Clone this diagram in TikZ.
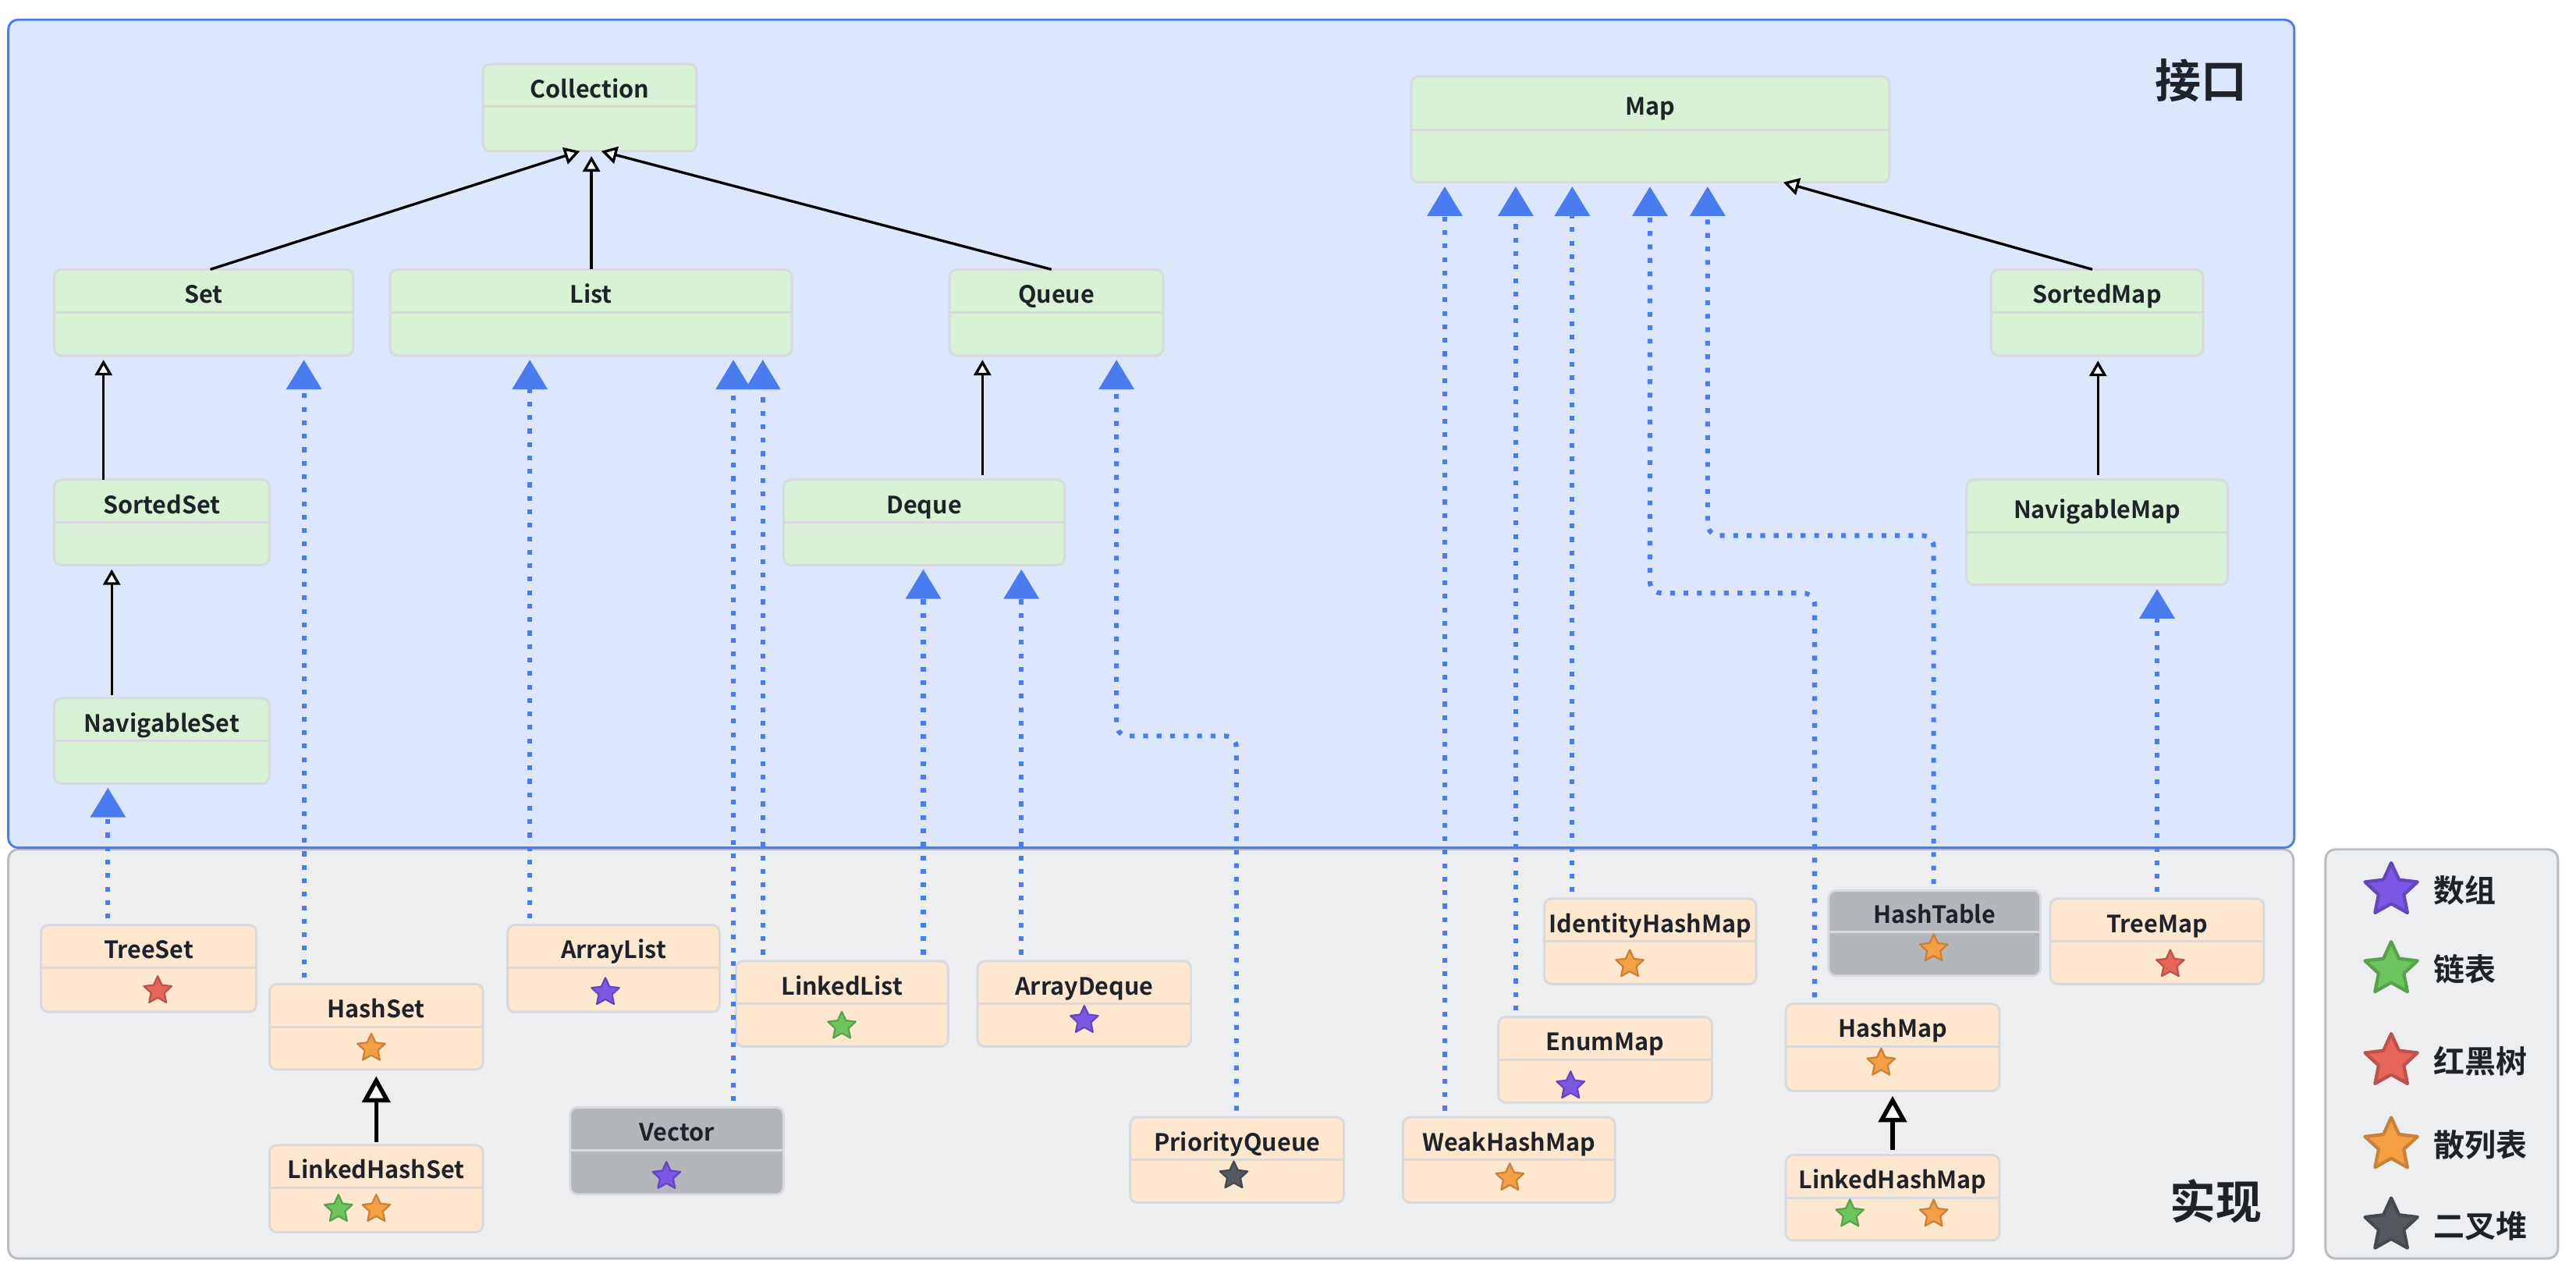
\documentclass[tikz,border=0pt]{standalone}
\usepackage{fontspec}
\setmainfont{Noto Sans CJK SC}[BoldFont={Noto Sans CJK SC Bold}]
\usetikzlibrary{arrows.meta}
\definecolor{ifill}{HTML}{DCE6FD}
\definecolor{iborder}{HTML}{4A7EF0}
\definecolor{pfill}{HTML}{EDEEF0}
\definecolor{pborder}{HTML}{B9BCC1}
\definecolor{gfill}{HTML}{D9F1D4}
\definecolor{ofill}{HTML}{FDE8CF}
\definecolor{grfill}{HTML}{B3B6BA}
\definecolor{bline}{HTML}{DADADE}
\definecolor{realc}{HTML}{4A7CF0}
\definecolor{txt}{HTML}{1F2329}
\definecolor{spurple}{HTML}{7B57E6}
\definecolor{sgreen}{HTML}{6CC55C}
\definecolor{sred}{HTML}{E6645A}
\definecolor{sorange}{HTML}{F59F45}
\definecolor{sdark}{HTML}{55595F}
\tikzset{
  ubox/.style={draw=bline, line width=1.4, rounded corners=4.5, inner sep=0pt, outer sep=0pt},
  udiv/.style={draw=bline, line width=1.4},
  utitle/.style={font=\fontsize{14.5}{17}\selectfont\bfseries, text=txt, inner sep=0pt},
  real/.style={realc, line width=2.9, dash pattern=on 2.9pt off 5.3pt, rounded corners=7,
    -{Triangle[width=21pt,length=18pt]}, shorten <=4pt, shorten >=2.5pt},
  inh/.style={black, line width=1.6, -{Triangle[open, width=10.5pt, length=9.5pt, fill=white]}},
  inhbig/.style={black, line width=2.6, -{Triangle[open, width=17pt, length=16pt, fill=white]}},
  biglabel/.style={font=\fontsize{28}{30}\selectfont\bfseries, text=txt, inner sep=0pt},
  leglabel/.style={font=\fontsize{19}{21}\selectfont\bfseries, text=txt, inner sep=0pt, anchor=west}
}
% #1 name, #2 x0, #3 y0, #4 x1, #5 y1, #6 divider y, #7 fill, #8 title
\newcommand\umlbox[8]{%
  \node[ubox, fill=#7, minimum width={#4pt-#2pt}, minimum height={#5pt-#3pt}] (#1) at ({(#2+#4)/2},{(#3+#5)/2}) {};
  \draw[udiv] (#2,#6) -- (#4,#6);
  \node[utitle, anchor=base] (#1-t) at ({(#2+#4)/2},{(#3+#6)/2+7.5}) {#8};
}
% #1 x, #2 y, #3 R, #4 colour
\newcommand\starat[4]{%
  \draw[fill=#4, draw=#4!82!black, line width={#3*0.12}, line join=round, shift={(#1,{#2+1})}]
    (270:#3) -- (306:{#3*0.48}) -- (342:#3) -- (18:{#3*0.48}) -- (54:#3) -- (90:{#3*0.48})
    -- (126:#3) -- (162:{#3*0.48}) -- (198:#3) -- (234:{#3*0.48}) -- cycle;
}
\begin{document}
\begin{tikzpicture}[x=1pt,y=-1pt]
\useasboundingbox (0,0) rectangle (1568,775);
\fill[white] (0,0) rectangle (1568,775);
% panels
\draw[draw=pborder, fill=pfill, line width=1.4, rounded corners=6] (5,517) rectangle (1396,766);
\draw[draw=iborder, fill=ifill, line width=1.4, rounded corners=6] (5,12) rectangle (1396.5,516);
\draw[draw=pborder, fill=pfill, line width=1.4, rounded corners=6] (1415.5,517) rectangle (1557,766);
\node[biglabel] (lblI) at (1340,49) {接口};
\node[biglabel] (lblR) at (1349,731) {实现};

% interface boxes
\umlbox{Collection}{294}{39}{424}{92}{65}{gfill}{Collection}
\umlbox{Set}{33}{164}{215}{216.5}{190}{gfill}{Set}
\umlbox{List}{237.5}{164}{482}{216.5}{190}{gfill}{List}
\umlbox{Queue}{578}{164}{708}{216.5}{190}{gfill}{Queue}
\umlbox{SortedSet}{33}{292}{164}{344}{318}{gfill}{SortedSet}
\umlbox{NavigableSet}{33}{425}{164}{477}{451}{gfill}{NavigableSet}
\umlbox{Deque}{477}{292}{648}{344}{318}{gfill}{Deque}
\umlbox{Map}{859}{46.5}{1150}{111}{79}{gfill}{Map}
\umlbox{SortedMap}{1212}{164}{1341}{216.5}{190}{gfill}{SortedMap}
\umlbox{NavigableMap}{1197}{292}{1356}{356}{324}{gfill}{NavigableMap}

% implementation boxes
\umlbox{TreeSet}{25}{563}{156}{616}{589}{ofill}{TreeSet}
\umlbox{HashSet}{164}{599}{294}{651}{625}{ofill}{HashSet}
\umlbox{LinkedHashSet}{164}{697}{294}{750}{723}{ofill}{LinkedHashSet}
\umlbox{ArrayList}{309}{563}{438}{616}{589}{ofill}{ArrayList}
\umlbox{LinkedList}{448}{585}{577}{637}{611}{ofill}{LinkedList}
\umlbox{Vector}{347}{674}{477}{727}{700}{grfill}{Vector}
\umlbox{ArrayDeque}{595}{585}{725}{637}{611}{ofill}{ArrayDeque}
\umlbox{PriorityQueue}{688}{680}{818}{732}{706}{ofill}{PriorityQueue}
\umlbox{WeakHashMap}{854}{680}{983}{732}{706}{ofill}{WeakHashMap}
\umlbox{EnumMap}{912}{619}{1042}{671}{645}{ofill}{EnumMap}
\umlbox{IdentityHashMap}{940}{547}{1069}{599}{573}{ofill}{IdentityHashMap}
\umlbox{HashTable}{1113}{542}{1242}{594}{567}{grfill}{HashTable}
\umlbox{HashMap}{1087}{611}{1217}{664}{637}{ofill}{HashMap}
\umlbox{LinkedHashMap}{1087}{703}{1217}{755}{729}{ofill}{LinkedHashMap}
\umlbox{TreeMap}{1248}{547}{1378}{599}{573}{ofill}{TreeMap}

% realization connectors
\draw[real] (65.7,0 |- TreeSet.north) -- (65.7,0 |- NavigableSet.south);
\draw[real] (185,0 |- HashSet.north) -- (185,0 |- Set.south);
\draw[real] (322.5,0 |- ArrayList.north) -- (322.5,0 |- List.south);
\draw[real] (446.4,0 |- Vector.north) -- (446.4,0 |- List.south);
\draw[real] (464.3,0 |- LinkedList.north) -- (464.3,0 |- List.south);
\draw[real] (562,0 |- LinkedList.north) -- (562,0 |- Deque.south);
\draw[real] (621.7,0 |- ArrayDeque.north) -- (621.7,0 |- Deque.south);
\draw[real] (752.6,0 |- PriorityQueue.north) -- (752.6,448) -- (679.6,448) -- (679.6,0 |- Queue.south);
\draw[real] (879.4,0 |- WeakHashMap.north) -- (879.4,0 |- Map.south);
\draw[real] (922.6,0 |- EnumMap.north) -- (922.6,0 |- Map.south);
\draw[real] (957,0 |- IdentityHashMap.north) -- (957,0 |- Map.south);
\draw[real] (1104.5,0 |- HashMap.north) -- (1104.5,361) -- (1004.3,361) -- (1004.3,0 |- Map.south);
\draw[real] (1177,0 |- HashTable.north) -- (1177,326) -- (1039.4,326) -- (1039.4,0 |- Map.south);
\draw[real] (1313,0 |- TreeMap.north) -- (1313,0 |- NavigableMap.south);

% inheritance connectors
\draw[inh] (128,0 |- Set.north) -- (353,0 |- Collection.south);
\draw[inh, shorten >=3pt] (360,0 |- List.north) -- (360,0 |- Collection.south);
\draw[inh] (640,0 |- Queue.north) -- (366,0 |- Collection.south);
\draw[inh, shorten >=2.5pt] (63,0 |- SortedSet.north) -- (63,0 |- Set.south);
\draw[inh, shorten >=2.5pt, shorten <=2pt] (68,0 |- NavigableSet.north) -- (68,0 |- SortedSet.south);
\draw[inh, shorten >=2.5pt, shorten <=3pt] (598,0 |- Deque.north) -- (598,0 |- Queue.south);
\draw[inh] (1273.6,0 |- SortedMap.north) -- (1085.5,0 |- Map.south);
\draw[inh, shorten >=3pt, shorten <=3pt] (1277,0 |- NavigableMap.north) -- (1277,0 |- SortedMap.south);
\draw[inhbig, shorten >=4pt, shorten <=2pt] (229,0 |- LinkedHashSet.north) -- (229,0 |- HashSet.south);
\draw[inhbig, shorten >=3pt, shorten <=3pt] (1152,0 |- LinkedHashMap.north) -- (1152,0 |- HashMap.south);

% stars in boxes
\starat{96}{602}{8.85}{sred}
\starat{226}{637}{8.85}{sorange}
\starat{206}{735}{8.85}{sgreen}
\starat{229}{735}{8.85}{sorange}
\starat{368.5}{603}{8.85}{spurple}
\starat{405.7}{715}{8.85}{spurple}
\starat{512.4}{623.6}{8.85}{sgreen}
\starat{660}{620}{8.85}{spurple}
\starat{751}{714.7}{8.85}{sdark}
\starat{919}{716}{8.85}{sorange}
\starat{956}{660}{8.85}{spurple}
\starat{992}{586}{8.85}{sorange}
\starat{1177}{576.5}{8.85}{sorange}
\starat{1321}{586}{8.85}{sred}
\starat{1145}{646}{8.85}{sorange}
\starat{1126}{738}{8.85}{sgreen}
\starat{1177}{738}{8.85}{sorange}

% legend
\starat{1455.5}{541}{16.8}{spurple}
\starat{1455.5}{589}{16.8}{sgreen}
\starat{1455.5}{645}{16.8}{sred}
\starat{1455.5}{696}{16.8}{sorange}
\starat{1455.5}{745}{16.8}{sdark}
\node[leglabel] (leg1) at (1481,542) {数组};
\node[leglabel] (leg2) at (1481,590) {链表};
\node[leglabel] (leg3) at (1481,646) {红黑树};
\node[leglabel] (leg4) at (1481,697) {散列表};
\node[leglabel] (leg5) at (1481,746) {二叉堆};
\end{tikzpicture}
\end{document}
